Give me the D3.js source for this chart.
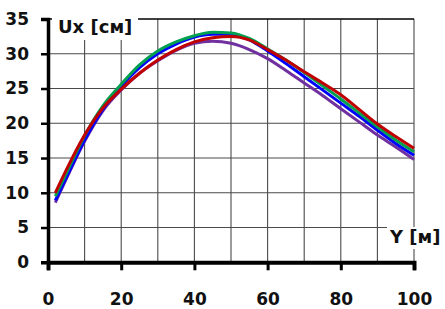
<!DOCTYPE html>
<html>
<head>
<meta charset="UTF-8">
<script src="https://cdn.jsdelivr.net/npm/d3@7"></script>
<style>
  body { margin: 0; background: #fff; }
  text { font-family: "DejaVu Sans", sans-serif; font-weight: bold; fill: #111; }
</style>
</head>
<body>
<svg width="445" height="309"></svg>
<script>
// data
const xs = [2, 5, 10, 15, 20, 25, 30, 35, 40, 45, 50, 55, 60, 65, 70, 75, 80, 85, 90, 95, 100];
const redVals    = [10.0, 13.3, 18.3, 22.2, 24.9, 27.2, 29.1, 30.6, 31.7, 32.3, 32.5, 32.0, 30.6, 29.1, 27.4, 25.8, 24.1, 22.0, 19.9, 18.1, 16.4];
const greenVals  = [9.5, 12.8, 18.2, 22.5, 25.6, 28.4, 30.4, 31.7, 32.6, 33.1, 33.0, 32.2, 30.7, 29.1, 27.3, 25.4, 23.5, 21.5, 19.5, 17.6, 15.9];
const blueVals   = [8.9, 12.2, 17.6, 22.0, 25.3, 28.0, 30.0, 31.4, 32.4, 32.8, 32.8, 32.0, 30.4, 28.6, 26.7, 24.8, 22.9, 21.0, 19.0, 17.1, 15.4];
const purpleVals = [8.6, 12.0, 17.4, 21.8, 24.8, 27.2, 29.0, 30.5, 31.5, 31.8, 31.5, 30.6, 29.3, 27.6, 25.8, 24.0, 22.1, 20.2, 18.3, 16.6, 14.8];
const xTicks = [0, 20, 40, 60, 80, 100];
const yTicks = [0, 5, 10, 15, 20, 25, 30, 35];

const series = [
  { name: "purple", color: "#7030a0", values: purpleVals },
  { name: "blue",   color: "#0000ff", values: blueVals },
  { name: "green",  color: "#00a050", values: greenVals },
  { name: "red",    color: "#c00000", values: redVals }
];

const svg = d3.select("svg");
const x = d3.scaleLinear().domain([0, 100]).range([48, 414]);
const y = d3.scaleLinear().domain([0, 35]).range([262.3, 19]);

// grid
const grid = svg.append("g");
grid.selectAll(".vg").data(d3.range(10, 101, 10)).enter().append("line")
  .attr("x1", d => x(d)).attr("x2", d => x(d))
  .attr("y1", y(35)).attr("y2", y(0))
  .attr("stroke", "#4a4a4a").attr("stroke-width", 1.1);
grid.selectAll(".hg").data(d3.range(5, 35, 5)).enter().append("line")
  .attr("x1", x(0)).attr("x2", x(100))
  .attr("y1", d => y(d)).attr("y2", d => y(d))
  .attr("stroke", "#4a4a4a").attr("stroke-width", 1.1);
// top border
grid.append("line")
  .attr("x1", x(0)).attr("x2", x(100))
  .attr("y1", y(35)).attr("y2", y(35))
  .attr("stroke", "#000").attr("stroke-width", 1.5);

// lines
const line = d3.line()
  .x((d, i) => x(xs[i]))
  .y(d => y(d))
  .curve(d3.curveMonotoneX);

svg.selectAll(".series").data(series).enter().append("path")
  .attr("fill", "none")
  .attr("stroke", d => d.color)
  .attr("stroke-width", 3)
  .attr("d", d => line(d.values));

// axes
const yAxis = svg.append("g")
  .attr("transform", `translate(${x(0)},0)`)
  .call(d3.axisLeft(y).tickValues(yTicks).tickSize(7).tickPadding(12));
yAxis.select(".domain").attr("stroke", "#000").attr("stroke-width", 3.5);
yAxis.selectAll(".tick line").attr("stroke", "#000").attr("stroke-width", 2.5);
yAxis.selectAll("text").attr("font-size", 17).attr("font-family", null).attr("fill", "#111");

const xAxis = svg.append("g")
  .attr("transform", `translate(0,${y(0)})`)
  .call(d3.axisBottom(x).tickValues(xTicks).tickSize(8).tickPadding(23));
xAxis.select(".domain").attr("stroke", "#000").attr("stroke-width", 4);
xAxis.selectAll(".tick line").attr("stroke", "#000").attr("stroke-width", 3);
xAxis.selectAll("text").attr("font-size", 17).attr("font-family", null).attr("fill", "#111");

// axis titles
svg.append("rect").attr("x", 52).attr("y", 16).attr("width", 86).attr("height", 24).attr("fill", "#fff");
svg.append("text").attr("x", 58).attr("y", 32.5).attr("font-size", 18).text("Ux [см]");

svg.append("rect").attr("x", 387).attr("y", 227).attr("width", 58).attr("height", 22).attr("fill", "#fff");
svg.append("text").attr("x", 390).attr("y", 243).attr("font-size", 18).text("Y [м]");
</script>
</body>
</html>
